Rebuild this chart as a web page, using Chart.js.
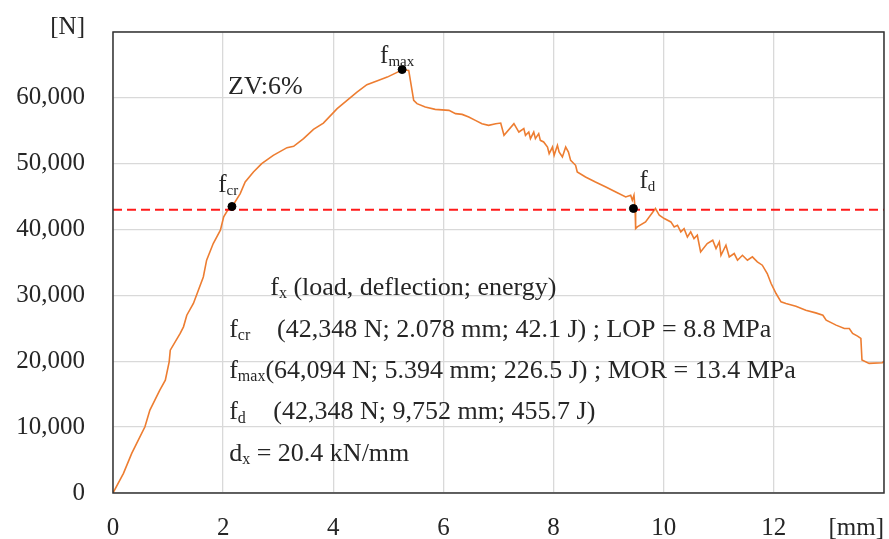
<!DOCTYPE html>
<html>
<head>
<meta charset="utf-8">
<script src="https://cdn.jsdelivr.net/npm/chart.js@4.4.1/dist/chart.umd.min.js"></script>
<style>
    html, body { margin: 0; padding: 0; background: #fff; }
    #wrap { width: 889px; height: 539px; position: relative; }
</style>
</head>
<body>
<div id="wrap"><canvas id="loadChart"></canvas></div>
<script>
// Load-deflection curve (mm, N)
const deflection = [
    0, 0.19, 0.34, 0.43, 0.58, 0.67, 0.85, 0.95, 1.02, 1.04,
    1.22, 1.28, 1.34, 1.46, 1.55, 1.64, 1.70, 1.82, 1.95, 2.01,
    2.10, 2.18, 2.31, 2.40, 2.55, 2.70, 2.91, 3.16, 3.28, 3.46,
    3.64, 3.82, 4.01, 4.07, 4.25, 4.43, 4.61, 4.79, 4.98, 5.13,
    5.25, 5.37,
    5.43, 5.46, 5.52, 5.67, 5.85, 6.10, 6.22, 6.34, 6.46, 6.58,
    6.70, 6.82, 6.95, 7.04, 7.10, 7.28, 7.37, 7.46, 7.49, 7.55,
    7.58, 7.64, 7.67, 7.73, 7.76, 7.82, 7.89, 7.92, 7.98, 8.01,
    8.07, 8.10, 8.16, 8.22, 8.27, 8.31, 8.40, 8.43, 8.58, 8.76,
    8.95, 9.13, 9.31, 9.40, 9.43, 9.46, 9.48, 9.49, 9.52, 9.67,
    9.85, 9.92, 10.01, 10.13, 10.19, 10.25, 10.31, 10.37, 10.43, 10.49,
    10.55, 10.61, 10.67, 10.79, 10.89, 10.95, 11.01, 11.04, 11.13, 11.19,
    11.28, 11.34, 11.43, 11.52, 11.61, 11.70, 11.79, 11.88, 11.95, 12.04,
    12.13, 12.22, 12.40, 12.58, 12.76, 12.89, 12.95, 13.13, 13.28, 13.37,
    13.43, 13.52, 13.58, 13.60, 13.73, 13.97, 14.0
];
const load = [
    0, 2990, 6020, 7540, 10060, 12590, 15630, 17140, 19920, 21690,
    24230, 25230, 27000, 28780, 30800, 32810, 35350, 37880, 39900, 41920,
    43190, 43690, 45460, 47220, 48740, 50010, 51270, 52440, 52640, 53810,
    55220, 56170, 57840, 58360, 59620, 60880, 62000, 62550, 63150, 63760,
    64270, 64170,
    61130, 59620, 59120, 58600, 58250, 58100, 57600, 57490, 57090, 56580,
    56080, 55830, 56080, 56170, 54310, 56080, 54810, 55320, 54310, 54810,
    53810, 54810, 53810, 54570, 53550, 53300, 52530, 51530, 52530, 51280,
    52790, 51780, 51020, 52530, 51780, 50510, 49760, 48740, 47980, 47220,
    46470, 45710, 44950, 45210, 44450, 45210, 43190, 40150, 40400, 41160,
    43190, 42170, 41670, 41160, 40400, 40660, 39650, 40150, 38880, 39650,
    38640, 39140, 36610, 37880, 38380, 37120, 38120, 36100, 37620, 35850,
    36360, 35350, 36100, 35350, 35850, 35090, 34590, 33330, 31810, 30290,
    29020, 28780, 28370, 27760, 27350, 27000, 26240, 25490, 24980, 24980,
    24230, 23820, 23470, 20180, 19680, 19770, 20020
];

// characteristic points f_cr, f_max, f_d
const markX = [2.16, 5.25, 9.45];
const markY = [43500, 64300, 43200];

// red dashed reference level
const refLevel = 43000;
const xTicks = [0, 2, 4, 6, 8, 10, 12, 14];
const yTicks = [0, 10000, 20000, 30000, 40000, 50000, 60000, 70000];

const FONT = '"Liberation Serif", "Times New Roman", serif';
const TEXT = '#262626';

// draws text made of pieces, some of them subscripts
function drawParts(ctx, x, y, parts, size) {
    parts.forEach(p => {
        if (p.at !== undefined) x = p.at;
        const s = p.sub ? Math.round(size * 0.6) : size;
        ctx.font = s + 'px ' + FONT;
        ctx.fillText(p.t, x, y + (p.sub ? size * 0.22 : 0));
        x += ctx.measureText(p.t).width;
    });
}

const textPlugin = {
    id: 'textPlugin',
    afterDatasetsDraw(chart) {
        const ctx = chart.ctx;
        const xs = chart.scales.x, ys = chart.scales.y;
        const a = chart.chartArea;
        const px = v => xs.getPixelForValue(v);
        const py = v => ys.getPixelForValue(v);
        ctx.save();
        // plot frame
        ctx.strokeStyle = '#333';
        ctx.lineWidth = 1.5;
        ctx.strokeRect(a.left, a.top, a.right - a.left, a.bottom - a.top);

        ctx.fillStyle = TEXT;
        ctx.textBaseline = 'middle';
        ctx.textAlign = 'left';

        drawParts(ctx, px(2.09), py(61600), [{ t: 'ZV:6%' }], 26);
        drawParts(ctx, px(1.91), py(46700), [{ t: 'f' }, { t: 'cr', sub: true }], 25);
        drawParts(ctx, px(4.85), py(66300), [{ t: 'f' }, { t: 'max', sub: true }], 25);
        drawParts(ctx, px(9.56), py(47300), [{ t: 'f' }, { t: 'd', sub: true }], 25);

        const x0 = px(2.11);
        drawParts(ctx, px(2.855), py(31100), [{ t: 'f' }, { t: 'x', sub: true }, { t: ' (load, deflection; energy)' }], 26);
        drawParts(ctx, x0, py(24800), [{ t: 'f' }, { t: 'cr', sub: true }, { t: '(42,348 N; 2.078 mm; 42.1 J) ; LOP = 8.8 MPa', at: px(2.98) }], 26);
        drawParts(ctx, x0, py(18500), [{ t: 'f' }, { t: 'max', sub: true }, { t: '(64,094 N; 5.394 mm; 226.5 J) ; MOR = 13.4 MPa' }], 26);
        drawParts(ctx, x0, py(12200), [{ t: 'f' }, { t: 'd', sub: true }, { t: '(42,348 N; 9,752 mm; 455.7 J)', at: px(2.91) }], 26);
        drawParts(ctx, x0, py(5900), [{ t: 'd' }, { t: 'x', sub: true }, { t: ' = 20.4 kN/mm' }], 26);

        // axis units
        ctx.font = '25px ' + FONT;
        ctx.textAlign = 'right';
        ctx.fillText('[N]', a.left - 28, a.top - 5);
        ctx.fillText('[mm]', a.right, a.bottom + 35);
        ctx.restore();
    }
};

window.addEventListener('load', function() {
    const ctx = document.getElementById('loadChart');
    new Chart(ctx, {
        type: 'scatter',
        data: {
            datasets: [{
                label: 'ZV 6%',
                data: deflection.map((d, i) => ({ x: d, y: load[i] })),
                showLine: true,
                borderColor: '#ED7D31',
                borderWidth: 1.6,
                pointRadius: 0,
                tension: 0,
                order: 3
            }, {
                label: 'level',
                data: [{ x: 0, y: refLevel }, { x: 14, y: refLevel }],
                showLine: true,
                borderColor: '#FF1A1A',
                borderWidth: 2,
                borderDash: [9, 5],
                pointRadius: 0,
                order: 2
            }, {
                label: 'points',
                data: markX.map((d, i) => ({ x: d, y: markY[i] })),
                backgroundColor: '#000',
                borderColor: '#000',
                pointRadius: 4,
                order: 1
            }]
        },
        options: {
            responsive: true,
            maintainAspectRatio: false,
            animation: false,
            layout: { padding: { top: 32, right: 5, left: 0, bottom: 0 } },
            plugins: {
                legend: { display: false },
                tooltip: { enabled: false }
            },
            scales: {
                x: {
                    type: 'linear',
                    min: 0,
                    max: 14,
                    afterBuildTicks: axis => { axis.ticks = xTicks.map(v => ({ value: v })); },
                    afterFit: axis => { axis.height = 46; axis.paddingLeft = 0; axis.paddingRight = 0; },
                    grid: { color: '#d9d9d9', lineWidth: 1.3, drawTicks: false },
                    border: { display: false },
                    ticks: {
                        padding: 20,
                        color: TEXT,
                        font: { family: FONT, size: 25 },
                        callback: v => (v === 14 ? '' : v)
                    }
                },
                y: {
                    min: 0,
                    max: 70000,
                    afterBuildTicks: axis => { axis.ticks = yTicks.map(v => ({ value: v })); },
                    afterFit: axis => { axis.width = 113; axis.paddingTop = 0; axis.paddingBottom = 0; },
                    grid: { color: '#d9d9d9', lineWidth: 1.3, drawTicks: false },
                    border: { display: false },
                    ticks: {
                        padding: 28,
                        color: TEXT,
                        font: { family: FONT, size: 25 },
                        callback: v => (v === 70000 ? '' : v.toLocaleString('en-US'))
                    }
                }
            }
        },
        plugins: [textPlugin]
    });
});
</script>
</body>
</html>
